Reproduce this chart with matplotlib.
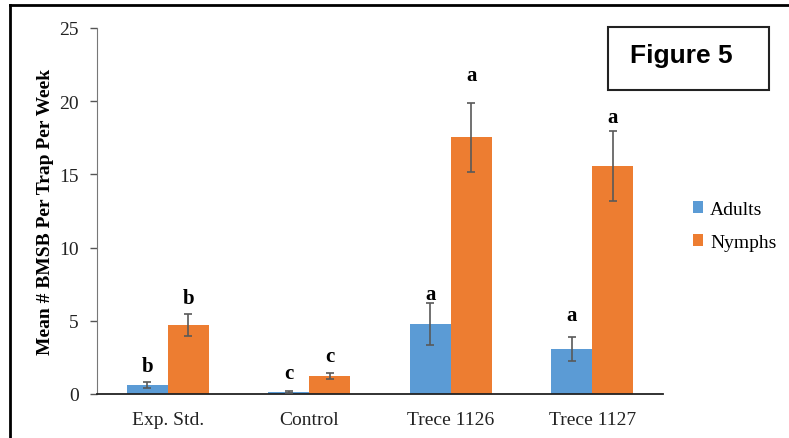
import numpy as np
import matplotlib
matplotlib.use("Agg")
import matplotlib.pyplot as plt
from matplotlib.lines import Line2D
from matplotlib.patches import Rectangle

categories = ["Exp. Std.", "Control", "Trece 1126", "Trece 1127"]
adults = [0.6, 0.14, 4.76, 3.07]
adults_err = [0.2, 0.07, 1.43, 0.83]
nymphs = [4.73, 1.23, 17.53, 15.58]
nymphs_err = [0.75, 0.2, 2.35, 2.4]
adults_letters = ["b", "c", "a", "a"]
nymphs_letters = ["b", "c", "a", "a"]
adults_letter_y = [1.93, 1.43, 6.83, 5.42]
nymphs_letter_y = [6.56, 2.57, 21.8, 18.94]
yticks = [0, 5, 10, 15, 20, 25]

plt.rcParams["font.family"] = ["Liberation Serif", "DejaVu Serif"]

fig = plt.figure(figsize=(7.89, 4.39), dpi=100)
ax = fig.add_axes([97 / 789, 1 - 395 / 439, (663 - 97) / 789, (395 - 29) / 439])

x = np.arange(len(categories))
w = 0.29
blue = "#5B9BD5"
orange = "#ED7D31"
ecol = "#595959"

ax.bar(x - w / 2, adults, w, color=blue, label="Adults", zorder=2)
ax.bar(x + w / 2, nymphs, w, color=orange, label="Nymphs", zorder=2)
ax.errorbar(x - w / 2, adults, yerr=adults_err, fmt="none", ecolor=ecol,
            elinewidth=1.2, capsize=3, capthick=1.2, zorder=3)
ax.errorbar(x + w / 2, nymphs, yerr=nymphs_err, fmt="none", ecolor=ecol,
            elinewidth=1.2, capsize=3, capthick=1.2, zorder=3)

for xi, lab, ly in zip(x - w / 2, adults_letters, adults_letter_y):
    ax.text(xi, ly, lab, ha="center", va="center", fontsize=15, fontweight="bold")
for xi, lab, ly in zip(x + w / 2, nymphs_letters, nymphs_letter_y):
    ax.text(xi, ly, lab, ha="center", va="center", fontsize=15, fontweight="bold")

ax.set_xlim(-0.5, len(categories) - 0.5)
ax.set_ylim(0, 25)
ax.set_yticks(yticks)
ax.set_xticks(x)
ax.set_xticklabels(categories)
ax.tick_params(axis="x", length=0, pad=12, labelsize=14, labelcolor="#222222")
ax.tick_params(axis="y", direction="out", length=5, width=1, pad=8, labelsize=14,
               colors="#555555", labelcolor="#222222")
for s in ["top", "right"]:
    ax.spines[s].set_visible(False)
ax.spines["left"].set_color("#777777")
ax.spines["bottom"].set_color("#222222")
ax.spines["bottom"].set_linewidth(1.3)

ax.set_ylabel("Mean # BMSB Per Trap Per Week", fontsize=14, fontweight="bold")
ax.yaxis.set_label_coords(-0.076, 0.5)

fig.legend(handles=ax.get_legend_handles_labels()[0], labels=["Adults", "Nymphs"],
           loc="center left", bbox_to_anchor=(675 / 789, 1 - 227 / 439), frameon=False,
           fontsize=14, handlelength=0.55, handleheight=0.55, handletextpad=0.35,
           labelspacing=0.8)

# "Figure 5" box
fig.patches.append(Rectangle((608 / 789, 1 - 91 / 439), (769 - 608) / 789, (91 - 28) / 439,
                             transform=fig.transFigure, fill=False, edgecolor="#222222",
                             linewidth=1.5))
fig.text(681 / 789, 1 - 56 / 439, "Figure 5", ha="center", va="center",
         fontsize=19, fontweight="bold", family=["Liberation Sans", "DejaVu Sans"])

# outer frame on top and left
fig.lines.append(Line2D([10 / 789, 1], [1 - 6 / 439, 1 - 6 / 439], transform=fig.transFigure,
                        color="black", linewidth=2))
fig.lines.append(Line2D([10 / 789, 10 / 789], [0, 1 - 6 / 439], transform=fig.transFigure,
                        color="black", linewidth=2))

fig.savefig("out.png", dpi=100)
